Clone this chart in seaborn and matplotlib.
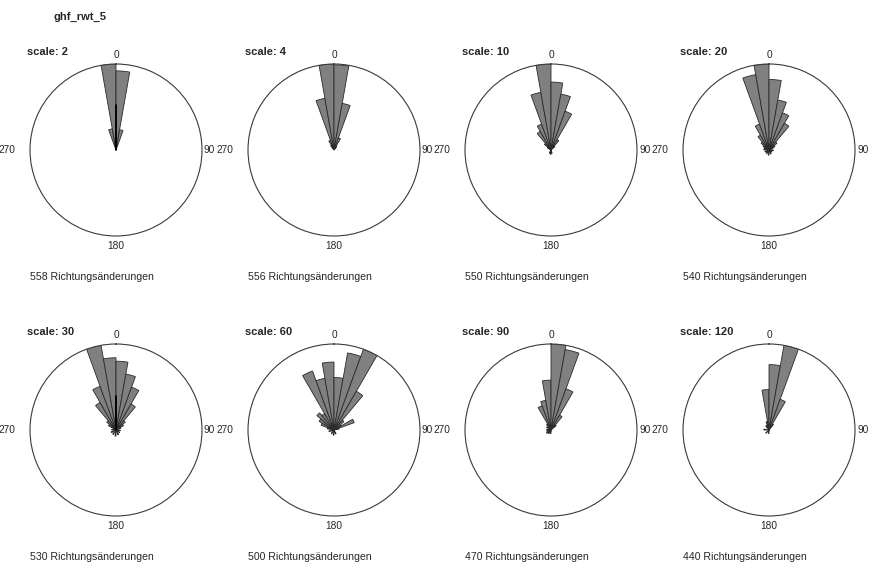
import numpy as np
import pandas as pd
import matplotlib
matplotlib.use("Agg")
import matplotlib.pyplot as plt
import seaborn as sns

W, H = 875, 568

run_name = "ghf_rwt_5"
scales = [2, 4, 10, 20, 30, 60, 90, 120]
n_changes = [558, 556, 550, 540, 530, 500, 470, 440]
dir_labels = ["0", "90", "180", "270"]

# Relative length of each 10-degree sector (start angle, clockwise from north)
deg_s2 = [340, 350, 0, 10]
len_s2 = [0.25, 1.00, 0.92, 0.24]

deg_s4 = [320, 330, 340, 350, 0, 10, 20, 30]
len_s4 = [0.06, 0.12, 0.61, 1.00, 0.99, 0.55, 0.15, 0.05]

deg_s10 = [160, 180, 200, 300, 310, 320, 330, 340, 350, 0, 10, 20, 30, 40]
len_s10 = [0.04, 0.05, 0.04, 0.05, 0.10, 0.25, 0.32, 0.68, 1.00, 0.79, 0.66, 0.48, 0.14, 0.06]

deg_s20 = [120, 150, 180, 210, 240, 270, 290, 300, 310, 320, 330, 340, 350,
           0, 10, 20, 30, 40, 50, 60, 90]
len_s20 = [0.04, 0.05, 0.06, 0.05, 0.05, 0.06, 0.06, 0.08, 0.12, 0.20, 0.32, 0.89, 1.00,
           0.82, 0.59, 0.46, 0.36, 0.12, 0.08, 0.05, 0.05]

deg_s30 = [120, 150, 180, 210, 240, 270, 300, 310, 320, 330, 340, 350,
           0, 10, 20, 30, 40, 50, 60, 90]
len_s30 = [0.05, 0.06, 0.07, 0.06, 0.06, 0.05, 0.10, 0.14, 0.37, 0.54, 1.00, 0.84,
           0.80, 0.66, 0.53, 0.35, 0.14, 0.10, 0.06, 0.05]

deg_s60 = [150, 180, 210, 250, 280, 290, 300, 310, 320, 330, 340, 350,
           0, 10, 20, 30, 40, 50, 60, 70]
len_s60 = [0.05, 0.06, 0.05, 0.06, 0.08, 0.16, 0.20, 0.26, 0.22, 0.73, 0.61, 0.79,
           0.61, 0.91, 1.00, 0.52, 0.15, 0.10, 0.25, 0.06]

deg_s90 = [180, 210, 230, 250, 270, 300, 320, 330, 340, 350, 0, 10, 20, 30, 40]
len_s90 = [0.04, 0.05, 0.06, 0.05, 0.05, 0.06, 0.08, 0.30, 0.35, 0.58, 1.00, 0.95,
           0.51, 0.20, 0.08]

deg_s120 = [180, 220, 270, 320, 330, 340, 350, 0, 10, 20, 30]
len_s120 = [0.04, 0.05, 0.06, 0.06, 0.06, 0.10, 0.47, 0.76, 1.00, 0.38, 0.08]

sector_deg = [deg_s2, deg_s4, deg_s10, deg_s20, deg_s30, deg_s60, deg_s90, deg_s120]
sector_len = [len_s2, len_s4, len_s10, len_s20, len_s30, len_s60, len_s90, len_s120]

# Mean direction vectors (drawn where present)
mean_dir = [0, 0, 0, 0, 0, 0, 0, 0]
mean_len = [0.52, None, None, None, 0.40, None, None, None]

rows = []
for sc, degs, lens in zip(scales, sector_deg, sector_len):
    for d, l in zip(degs, lens):
        rows.append({"scale": sc, "angle": d, "length": l})
df = pd.DataFrame(rows)

sns.set_style("white")
plt.rcParams["font.family"] = ["Liberation Sans", "DejaVu Sans"]

BAR_WIDTH = 10


def draw_rose(data, **kwargs):
    ax = plt.gca()
    ax.bar(np.deg2rad(data["angle"].to_numpy()), data["length"].to_numpy(),
           width=np.deg2rad(BAR_WIDTH), align="edge", color="#808080",
           edgecolor="#2a2a2a", linewidth=0.6, zorder=2)


g = sns.FacetGrid(df, col="scale", col_wrap=4, col_order=scales,
                  subplot_kws={"projection": "polar"}, sharex=False, sharey=False,
                  despine=False, height=2)
g.map_dataframe(draw_rose)

fig = g.figure
fig.set_size_inches(W / 100, H / 100)
fig.set_dpi(100)

centers_x = [116, 334, 551, 769]
centers_y = [150, 430]
R = 86


def fx(x):
    return x / W


def fy(y):
    return 1 - y / H


for i, ax in enumerate(g.axes.flat):
    cx = centers_x[i % 4]
    cy = centers_y[i // 4]
    ax.set_position([(cx - R) / W, (H - cy - R) / H, 2 * R / W, 2 * R / H])
    ax.set_theta_zero_location("N")
    ax.set_theta_direction(-1)
    ax.set_ylim(0, 1)
    ax.set_xticks([])
    ax.set_yticks([])
    ax.grid(False)
    ax.set_title("")
    ax.set_xlabel("")
    ax.set_ylabel("")
    ax.spines["polar"].set_color("#3a3a3a")
    ax.spines["polar"].set_linewidth(0.8)
    if mean_len[i] is not None:
        th = np.deg2rad(mean_dir[i])
        ax.plot([th, th], [0, mean_len[i]], color="black", lw=1.3, zorder=3)

    fs = 7.3
    fig.text(fx(cx - 89), fy(cy - 98), f"scale: {scales[i]}", fontsize=8,
             fontweight="bold", ha="left", va="center")
    fig.text(fx(cx), fy(cy - 95), dir_labels[0], fontsize=fs, ha="center", va="center")
    fig.text(fx(cx + 88), fy(cy), dir_labels[1], fontsize=fs, ha="left", va="center")
    fig.text(fx(cx), fy(cy + 96), dir_labels[2], fontsize=fs, ha="center", va="center")
    fig.text(fx(cx - 101), fy(cy), dir_labels[3], fontsize=fs, ha="right", va="center")
    fig.text(fx(cx - 86), fy(cy + 127), f"{n_changes[i]} Richtungsänderungen",
             fontsize=7.6, ha="left", va="center")

fig.text(53 / W, 1 - 17 / H, run_name, fontsize=8, fontweight="bold",
         ha="left", va="center")

fig.savefig("out.png", dpi=100, facecolor="white")
